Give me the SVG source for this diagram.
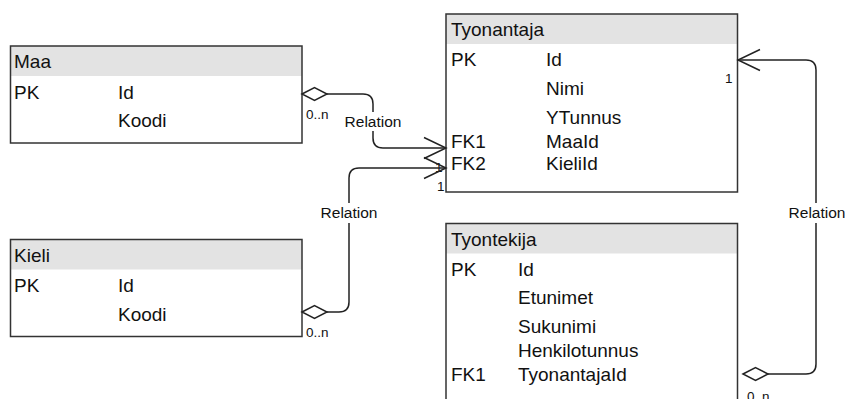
<svg xmlns="http://www.w3.org/2000/svg" width="847" height="399" viewBox="0 0 847 399">
<style>
  .box{fill:none;stroke:#333;stroke-width:1.5}
  .hdr{fill:#e3e3e3;stroke:none}
  text{font-family:"Liberation Sans",Arial,sans-serif;fill:#111}
  .t{font-size:19px}
  .lbl{font-size:15.5px;text-anchor:middle}
  .card{font-size:13.5px}
  .con{fill:none;stroke:#222;stroke-width:1.5;marker-start:url(#dia);marker-end:url(#arr)}
  .gap{fill:#fff}
</style>
<defs>
  <marker id="dia" markerUnits="userSpaceOnUse" viewBox="-2 -9 29 18" markerWidth="29" markerHeight="18" refX="0" refY="0" orient="auto">
    <path d="M0,0 L12.5,-6.5 L25,0 L12.5,6.5 Z" fill="#fff" stroke="#222" stroke-width="1.5"/>
  </marker>
  <marker id="arr" markerUnits="userSpaceOnUse" viewBox="-25 -13 27 26" markerWidth="27" markerHeight="26" refX="0" refY="0" orient="auto">
    <path d="M-22,-10.5 L0,0 L-22,10.5" fill="none" stroke="#222" stroke-width="1.5"/>
  </marker>
</defs>
<rect width="847" height="399" fill="#fff"/>

<g id="Maa">
  <rect x="10.5" y="46" width="291.5" height="30" class="hdr"/>
  <rect x="10.5" y="46" width="291.5" height="97" class="box"/>
  <text class="t" x="14" y="68">Maa</text>
  <text class="t" x="14" y="99">PK</text>
  <text class="t" x="118" y="99">Id</text>
  <text class="t" x="118" y="127">Koodi</text>
</g>

<g id="Kieli">
  <rect x="10.5" y="239.5" width="291.5" height="30" class="hdr"/>
  <rect x="10.5" y="239.5" width="291.5" height="97" class="box"/>
  <text class="t" x="14" y="262">Kieli</text>
  <text class="t" x="14" y="292">PK</text>
  <text class="t" x="118" y="292">Id</text>
  <text class="t" x="118" y="321">Koodi</text>
</g>

<g id="Tyonantaja">
  <rect x="446" y="14" width="291.5" height="30" class="hdr"/>
  <rect x="446" y="14" width="291.5" height="178" class="box"/>
  <text class="t" x="451" y="36">Tyonantaja</text>
  <text class="t" x="451" y="66">PK</text>
  <text class="t" x="546" y="66">Id</text>
  <text class="t" x="546" y="95">Nimi</text>
  <text class="t" x="546" y="124">YTunnus</text>
  <text class="t" x="451" y="148">FK1</text>
  <text class="t" x="546" y="148">MaaId</text>
  <text class="t" x="451" y="170">FK2</text>
  <text class="t" x="546" y="170">KieliId</text>
</g>

<g id="Tyontekija">
  <rect x="446" y="223.5" width="291.5" height="30" class="hdr"/>
  <rect x="446" y="223.5" width="291.5" height="200" class="box"/>
  <text class="t" x="451" y="246">Tyontekija</text>
  <text class="t" x="451" y="276">PK</text>
  <text class="t" x="518" y="276">Id</text>
  <text class="t" x="518" y="304">Etunimet</text>
  <text class="t" x="518" y="333">Sukunimi</text>
  <text class="t" x="518" y="357">Henkilotunnus</text>
  <text class="t" x="451" y="381">FK1</text>
  <text class="t" x="518" y="381">TyonantajaId</text>
</g>

<g id="connectors">
  <g id="rel-maa">
    <path class="con" d="M302,94 H363 Q373,94 373,104 V138 Q373,148 383,148 H446"/>
    <rect class="gap" x="342" y="112" width="62" height="19"/>
    <text class="lbl" x="373" y="127">Relation</text>
    <text class="card" x="306" y="119">0..n</text>
    <text class="card" x="435" y="172">1</text>
  </g>
  <g id="rel-kieli">
    <path class="con" d="M302,312 H339 Q349,312 349,302 V178 Q349,168 359,168 H446"/>
    <rect class="gap" x="318" y="203" width="62" height="20"/>
    <text class="lbl" x="349" y="218">Relation</text>
    <text class="card" x="306" y="337">0..n</text>
    <text class="card" x="437" y="191">1</text>
  </g>
  <g id="rel-tyontekija">
    <path class="con" d="M743,374 H806 Q816,374 816,364 V70 Q816,60 806,60 H738"/>
    <rect class="gap" x="786" y="203" width="61" height="20"/>
    <text class="lbl" x="817" y="218">Relation</text>
    <text class="card" x="747" y="401">0..n</text>
    <text class="card" x="725" y="83">1</text>
  </g>
</g>
</svg>
